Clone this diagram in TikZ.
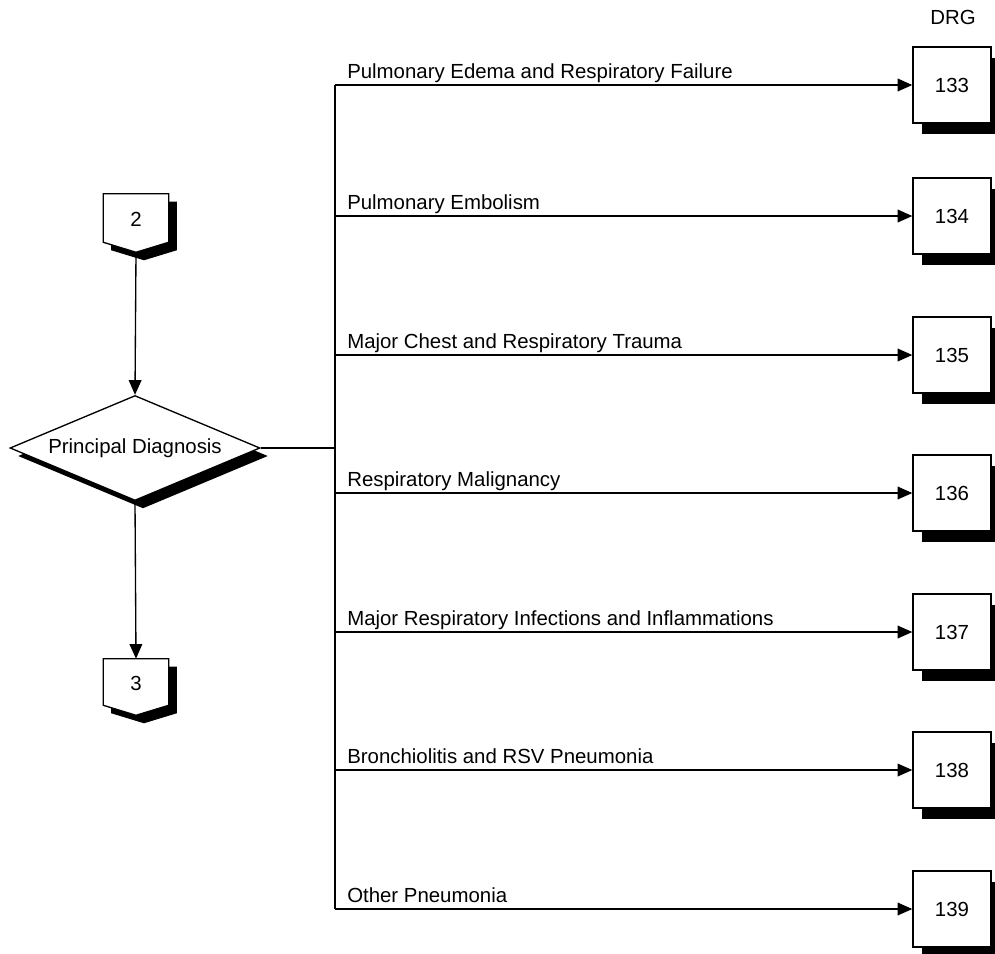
\documentclass[tikz,border=0pt]{standalone}
\usepackage{fontspec}
\setmainfont{Liberation Sans}
\usetikzlibrary{shapes.geometric,shadows,arrows.meta,calc}

% Off-page connector outline (pentagon pointing down), drawn from a node's anchors,
% optionally shifted by (#2,#3) for its shadow.
\newcommand\pentapath[3]{%
  ([shift={(#2,#3)}]#1.north west) -- ([shift={(#2,#3)}]#1.north east)
  -- ([shift={(#2,#3+7.5pt)}]#1.south east) -- ([shift={(#2,#3)}]#1.south)
  -- ([shift={(#2,#3+7.5pt)}]#1.south west) -- cycle}

\begin{document}
\begin{tikzpicture}[x=0.75pt,y=-0.75pt,
  every node/.style={font=\fontsize{15.3}{18}\selectfont},
  line/.style={line width=1pt},
  arr/.style={line width=1pt,-{Triangle[length=11pt,width=9.5pt]}},
  drgbox/.style={draw,line width=1pt,fill=white,minimum width=58.5pt,minimum height=57pt,
    inner sep=0pt,drop shadow={shadow xshift=6.75pt,shadow yshift=-8.25pt,fill=black,opacity=1}},
  decision/.style={diamond,draw,line width=1pt,fill=white,minimum width=187.5pt,
    minimum height=78.75pt,inner sep=0pt,
    drop shadow={shadow xshift=6pt,shadow yshift=-6pt,fill=black,opacity=1}},
  offpage/.style={minimum width=48.75pt,minimum height=43.5pt,inner sep=0pt},
  branch/.style={anchor=base west,inner sep=0pt}
]
\useasboundingbox (0,0) rectangle (995,953);

% off-page connectors
\node[offpage] (p2) at (136,223) {};
\node[offpage,minimum height=42pt] (p3) at (136,687) {};
\foreach \p in {p2,p3}{
  \fill[black] \pentapath{\p}{6pt}{-6pt};
  \draw[line,fill=white] \pentapath{\p}{0pt}{0pt};
}
\node (n2) at ([yshift=3pt]p2.center) {2};
\node (n3) at ([yshift=3pt]p3.center) {3};

% decision
\node[decision,label=center:Principal Diagnosis] (pd) at (135,448) {};

% DRG boxes
\node[anchor=base] (drg) at (953,24) {DRG};
\node[drgbox] (d133) at (952,85) {133};
\node[drgbox] (d134) at (952,216) {134};
\node[drgbox] (d135) at (952,355) {135};
\node[drgbox] (d136) at (952,493) {136};
\node[drgbox] (d137) at (952,632) {137};
\node[drgbox] (d138) at (952,770) {138};
\node[drgbox] (d139) at (952,909) {139};

% trunk points
\coordinate (t1) at (335,85);
\coordinate (t2) at (335,216);
\coordinate (t3) at (335,355);
\coordinate (t4) at (335,493);
\coordinate (t5) at (335,632);
\coordinate (t6) at (335,770);
\coordinate (t7) at (335,909);

% flow
\draw[arr] (p2.south) -- (pd.north);
\draw[arr] (pd.south) -- (p3.north);
\draw[line] (pd.east) -- (pd.east -| t1);
\draw[line] (t1) -- (t7);
\draw[arr] (t1) -- (d133.west);
\draw[arr] (t2) -- (d134.west);
\draw[arr] (t3) -- (d135.west);
\draw[arr] (t4) -- (d136.west);
\draw[arr] (t5) -- (d137.west);
\draw[arr] (t6) -- (d138.west);
\draw[arr] (t7) -- (d139.west);

% branch labels
\node[branch] (l1) at (347,78) {Pulmonary Edema and Respiratory Failure};
\node[branch] (l2) at (347,209) {Pulmonary Embolism};
\node[branch] (l3) at (347,348) {Major Chest and Respiratory Trauma};
\node[branch] (l4) at (347,486) {Respiratory Malignancy};
\node[branch] (l5) at (347,625) {Major Respiratory Infections and Inflammations};
\node[branch] (l6) at (347,763) {Bronchiolitis and RSV Pneumonia};
\node[branch] (l7) at (347,902) {Other Pneumonia};
\end{tikzpicture}
\end{document}
